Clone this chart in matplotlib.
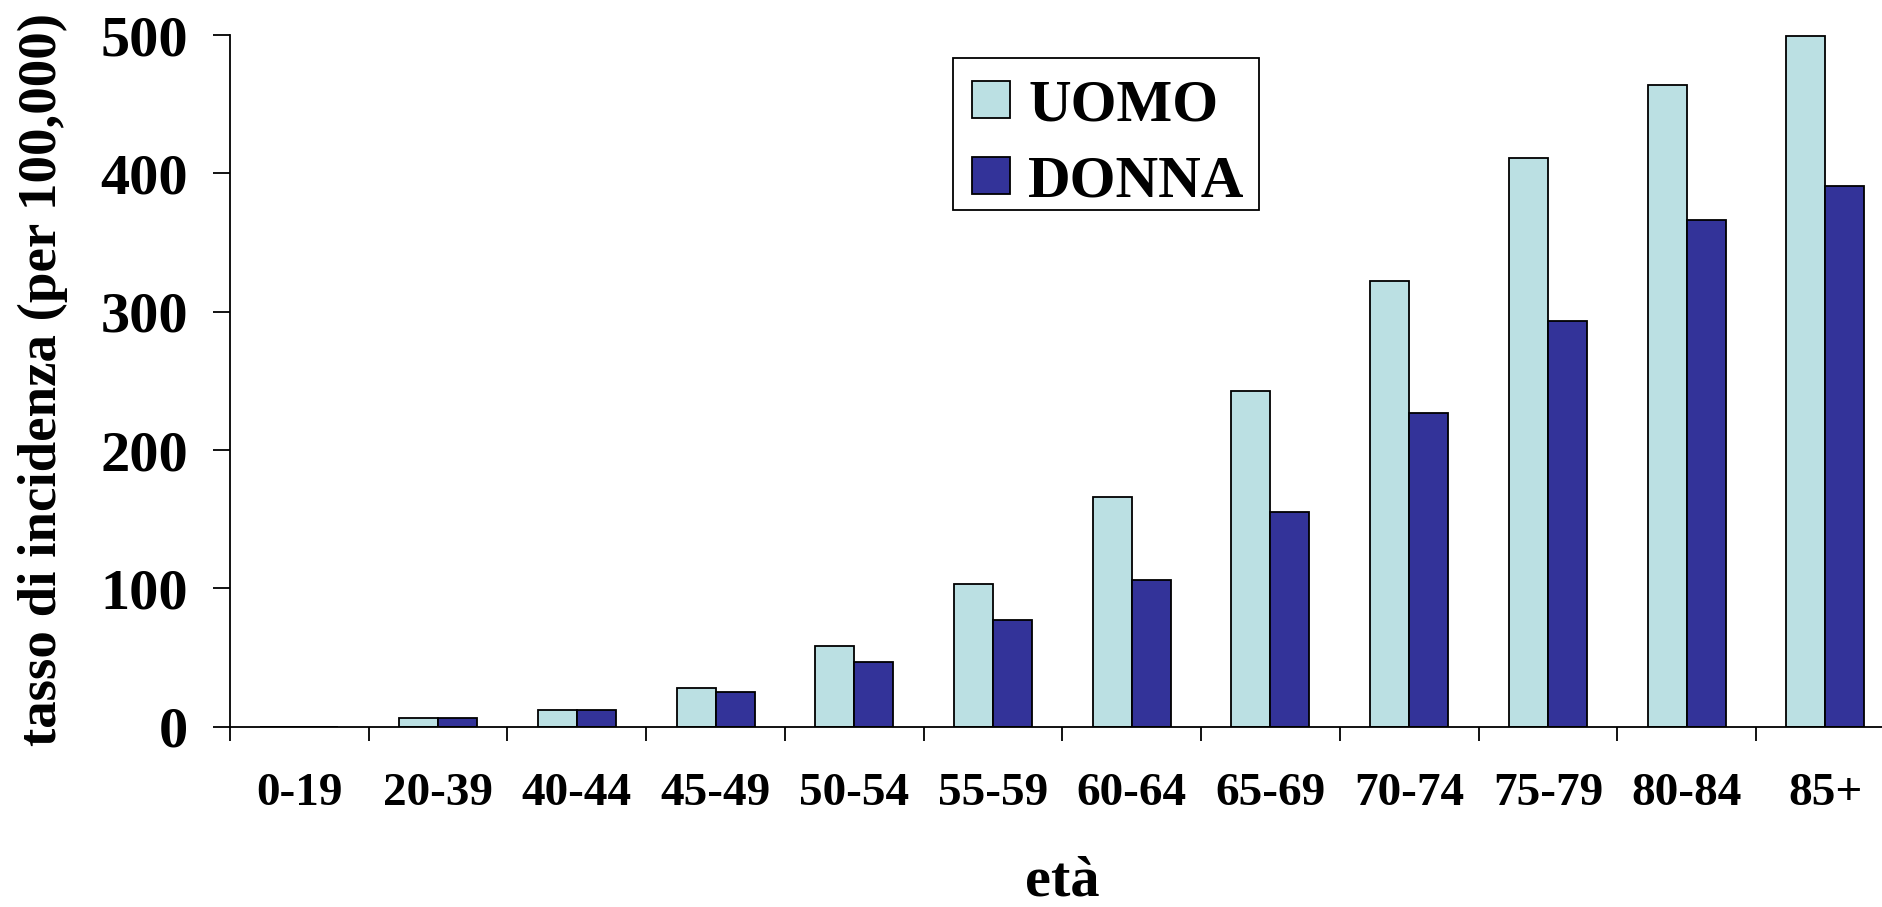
import matplotlib
matplotlib.use("Agg")
import matplotlib.pyplot as plt
import matplotlib.patches as mpatches
import numpy as np
from matplotlib.ticker import FixedLocator, NullFormatter

categories = ["0-19", "20-39", "40-44", "45-49", "50-54", "55-59", "60-64",
              "65-69", "70-74", "75-79", "80-84", "85+"]
uomo = [0, 6, 12, 28, 58, 103, 166, 243, 322, 411, 464, 499]
donna = [0, 6, 12, 25, 47, 77, 106, 155, 227, 293, 366, 391]
y_ticks = [0, 100, 200, 300, 400, 500]

plt.rcParams['font.family'] = ['Liberation Serif', 'DejaVu Serif']
plt.rcParams['font.weight'] = 'bold'

W, H = 1883, 907
fig = plt.figure(figsize=(W / 100, H / 100), dpi=100)
left = 230 / W
right_px = 1894.7
bottom = (H - 726.7) / H
top = (H - 35) / H
ax = fig.add_axes([left, bottom, (right_px - 230) / W, top - bottom])

x = np.arange(len(categories))
w = 0.281
c_u = "#BBE0E3"
c_d = "#333399"
ax.bar(x - w / 2, uomo, width=w, color=c_u, edgecolor="black", linewidth=1.3, label="UOMO")
ax.bar(x + w / 2, donna, width=w, color=c_d, edgecolor="black", linewidth=1.3, label="DONNA")

ax.set_xlim(-0.5, len(categories) - 0.5)
ax.set_ylim(0, 500)
for s in ["top", "right"]:
    ax.spines[s].set_visible(False)
for s in ["left", "bottom"]:
    ax.spines[s].set_linewidth(1.3)

ax.set_yticks(y_ticks)
ax.set_yticklabels([str(v) for v in y_ticks], fontsize=42, fontweight="bold")
ax.tick_params(axis="y", direction="out", length=12, width=1.3, pad=18)

ax.set_xticks(x)
ax.set_xticklabels(categories, fontsize=34, fontweight="bold")
ax.tick_params(axis="x", which="major", length=0, pad=33)
ax.xaxis.set_minor_locator(FixedLocator(np.arange(-0.5, len(categories), 1.0)))
ax.xaxis.set_minor_formatter(NullFormatter())
ax.tick_params(axis="x", which="minor", direction="out", length=10, width=1.3)

fig.text(43 / W, 1 - 380 / H, "tasso di incidenza (per 100,000)", rotation=90,
         ha="center", va="center", fontsize=39.5, fontweight="bold")
fig.text(1062 / W, 11 / H, "età", ha="center", va="baseline", fontsize=42, fontweight="bold")

fs = 42.5
leg = ax.legend(loc="upper left", bbox_to_anchor=(952.7 / W, 1 - 60 / H),
                bbox_transform=fig.transFigure, borderaxespad=0,
                prop={"size": fs, "weight": "bold"}, frameon=False,
                handlelength=0.644, handleheight=0.593,
                handletextpad=0.305, borderpad=0.33, labelspacing=0.37)
leg.set_zorder(6)

frame = mpatches.Rectangle((952.7 / W, 1 - 210 / H), (1259 - 952.7) / W, (210 - 58) / H,
                           transform=fig.transFigure, facecolor="white",
                           edgecolor="black", linewidth=1.3, zorder=5, clip_on=False)
ax.add_artist(frame)

fig.savefig("out.png", dpi=100)
